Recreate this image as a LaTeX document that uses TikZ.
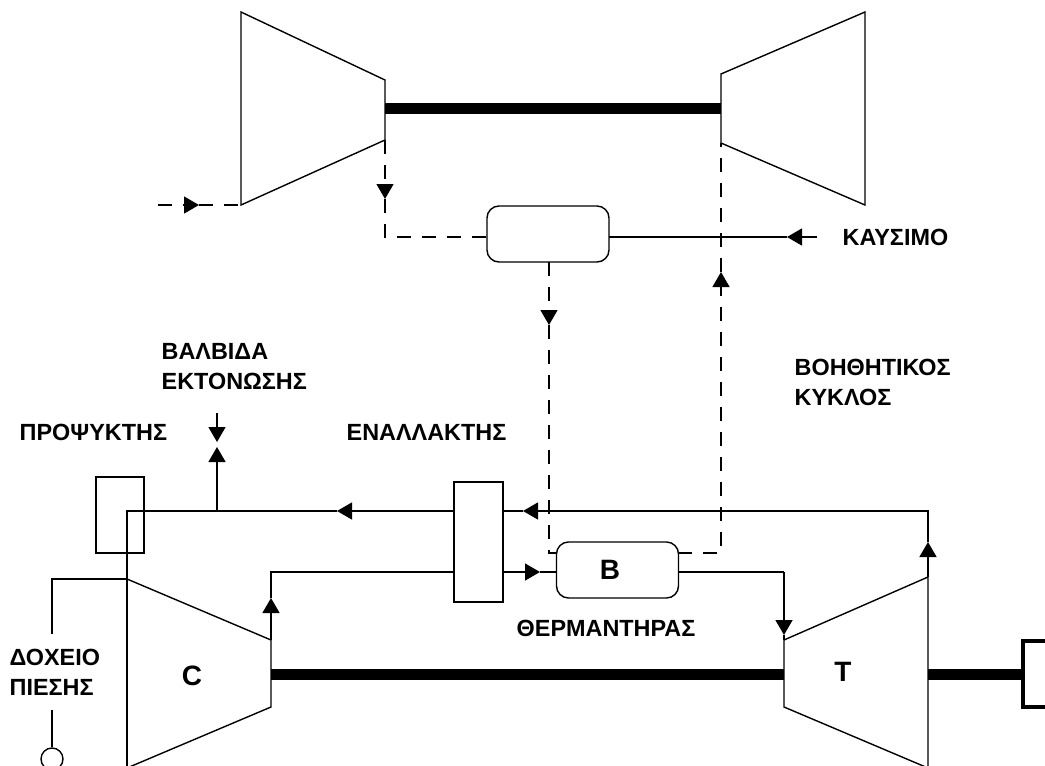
\documentclass[tikz,border=0pt]{standalone}
\usepackage{fontspec}
\setmainfont{Liberation Sans}
\usetikzlibrary{arrows.meta, positioning}

\begin{document}
\begin{tikzpicture}[x=1pt, y=-1pt, >={Triangle[width=17pt, length=15pt]}, line width=1.4pt,
                box/.style={rectangle, draw=black, fill=white, outer sep=0pt},
                vessel/.style={box, rounded corners=12pt, minimum width=122pt, minimum height=56pt},
                label/.style={inner sep=0pt, anchor=west, align=left, font=\fontsize{23.4}{30}\selectfont\bfseries},
                letter/.style={inner sep=0pt, font=\fontsize{28}{28}\selectfont\bfseries},
                dashline/.style={dash pattern=on 14pt off 11pt},
                shaft/.style={line width=11pt}]
                \clip (0,0) rectangle (1045,766);

                % upper set
                \draw (241,12) -- (385,80) -- (385,140) -- (241,205) -- cycle;
                \draw (865,12) -- (721,74) -- (721,143) -- (865,205) -- cycle;
                \coordinate (uc) at (385,108);
                \coordinate (ut) at (721,108);
                \draw[shaft] (uc) -- (ut);
                \node[vessel] (burner) at (548,234) {};
                \node[label] (fuel) at (842,237) {ΚΑΥΣΙΜΟ};

                % lower set
                \draw (127,579) -- (271,640) -- (271,707) -- (127,768);
                \draw (784,707) -- (784,640) -- (928,577) -- (928,768) -- cycle;
                \coordinate (lc) at (271,674);
                \coordinate (lt) at (784,674);
                \coordinate (lte) at (928,674);
                \draw[shaft] (lc) -- (lt);
                \node[box, line width=4pt, minimum width=58pt, minimum height=66pt] (gen) at (1052,674) {};
                \draw[shaft] (lte) -- (gen.west);
                \node[letter] (cl) at (192,676) {C};
                \node[letter] (tl) at (843,672) {T};

                \node[box, minimum width=49pt, minimum height=120pt] (exch) at (478.5,542) {};
                \node[vessel] (heater) at (617.5,570) {};
                \node[letter] (bl) at (610,570) {B};
                \node[box, fill=none, minimum width=48pt, minimum height=76pt] (cooler) at (120,515) {};
                \node[draw, circle, fill=white, inner sep=0pt, minimum size=22pt] (tank) at (52,759) {};

                \node[label] (valvelb) at (161,367) {ΒΑΛΒΙΔΑ\\ΕΚΤΟΝΩΣΗΣ};
                \node[label] (coolerlb) at (19,432) {ΠΡΟΨΥΚΤΗΣ};
                \node[label] (exchlb) at (346,432) {ΕΝΑΛΛΑΚΤΗΣ};
                \node[label] (auxlb) at (794,382) {ΒΟΗΘΗΤΙΚΟΣ\\ΚΥΚΛΟΣ};
                \node[label] (heaterlb) at (516,628) {ΘΕΡΜΑΝΤΗΡΑΣ};
                \node[label] (tanklb) at (9,672) {ΔΟΧΕΙΟ\\ΠΙΕΣΗΣ};

                % upper dashed loop
                \coordinate (inl) at (158,205);
                \coordinate (intip) at (199,205);
                \coordinate (inr) at (241,205);
                \draw[dashline, ->] (inl) -- (intip);
                \draw[dashline] (intip) -- (inr);
                \coordinate (ucout) at (385,140);
                \coordinate (uctip) at (385,199);
                \coordinate (buin) at (487,237);
                \draw[dashline, ->] (ucout) -- (uctip);
                \draw[dashline] (uctip) |- (buin);
                \coordinate (fuelin) at (817,237);
                \coordinate (fueltip) at (787,237);
                \draw[->] (fuelin) -- (fueltip);
                \draw (fueltip) -- (burner.east |- fueltip);
                \coordinate (buout) at (549,262);
                \coordinate (butip) at (549,325);
                \coordinate (hin) at (557,553);
                \coordinate (hout) at (678,553);
                \coordinate (auxtip) at (721,272);
                \coordinate (utin) at (721,143);
                \draw[dashline, ->] (buout) -- (butip);
                \draw[dashline] (butip) |- (hin);
                \draw[dashline, ->] (hout) -| (auxtip);
                \draw[dashline] (auxtip) -- (utin);

                % main cycle
                \coordinate (tout) at (928,577);
                \coordinate (ttip) at (928,542);
                \coordinate (exhot) at (523,511);
                \coordinate (valvej) at (217,511);
                \coordinate (mtip) at (337,511);
                \coordinate (cbot) at (127,768);
                \coordinate (ctop) at (271,640);
                \coordinate (ctip) at (271,598);
                \coordinate (hetip) at (540,572);
                \coordinate (tin) at (784,640);
                \coordinate (tintip) at (784,635);
                \coordinate (corner) at (784,572);
                \draw[->] (tout) -- (ttip);
                \draw[->] (ttip) |- (exhot);
                \draw (exhot) -- (exch.east |- exhot);
                \draw[->] (exch.west |- exhot) -- (mtip);
                \draw (mtip) -| (cbot);
                \draw[->] (ctop) -- (ctip);
                \draw (ctip) |- (exch.west |- hetip);
                \draw[->] (exch.east |- hetip) -- (hetip);
                \draw (hetip) -- (heater.west |- hetip);
                \draw (heater.east |- corner) -- (corner);
                \draw[->] (corner) -- (tintip);
                \draw (tintip) -- (tin);

                % valve and tank
                \coordinate (vtop) at (217,413);
                \coordinate (vdown) at (217,442);
                \coordinate (vup) at (217,447);
                \draw[->] (vtop) -- (vdown);
                \draw[->] (valvej) -- (vup);
                \coordinate (cin) at (127,579);
                \coordinate (tankup) at (52,634);
                \coordinate (tankdown) at (52,710);
                \draw (cin) -| (tankup);
                \draw (tankdown) -- (tank.north);
\end{tikzpicture}
\end{document}
